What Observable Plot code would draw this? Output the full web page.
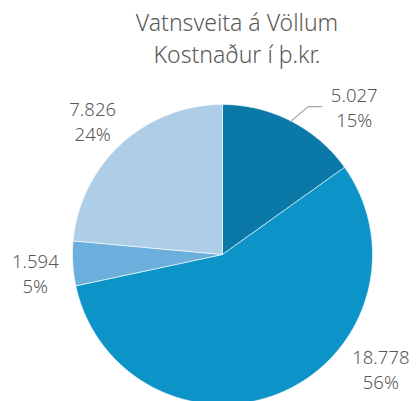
<!DOCTYPE html>
<html>
<head>
<meta charset="utf-8">
<script src="https://cdn.jsdelivr.net/npm/d3@7"></script>
<script src="https://cdn.jsdelivr.net/npm/@observablehq/plot@0.6"></script>
<style>
  html, body { margin: 0; padding: 0; background: #fff; overflow: hidden; }
  #wrap { position: relative; width: 417px; height: 401px; }
  .title { position: absolute; left: 237px; transform: translateX(-50%); white-space: nowrap;
           font-family: "Noto Sans", sans-serif; font-weight: 300; font-size: 23px; color: #595959; line-height: 32px; text-align: center; }
  #chart { position: absolute; left: 0; top: 80px; }
  #chart text { font-weight: 300; }
</style>
</head>
<body>
<div id="wrap">
  <div class="title" style="top:6px">Vatnsveita á Völlum<br>Kostnaður í þ.kr.</div>
  <div id="chart"></div>
</div>
<script>
// Data
const categories = ["A", "B", "C", "D"];
const values = [5027, 18778, 1594, 7826];
const percentLabels = ["15%", "56%", "5%", "24%"];

// Styles / layout (not data)
const colors = ["#0B79A8", "#0C93C7", "#6BAFDC", "#AECDE7"];
// label anchor positions in unit-radius coordinates (layout tweaks, Excel "best fit")
const labelLayout = [
  {r: 1.31, a: 42.1},
  {r: 1.31, a: 126.3},
  {r: 1.255, a: 263.9},
  {r: 1.235, a: 315.5}
];

const loc = d3.formatLocale({decimal: ",", thousands: ".", grouping: [3], currency: ["", ""]});
const fmt = loc.format(",d");

const pie = d3.pie().sort(null).value(d => d.value);
const rows = categories.map((c, i) => ({cat: c, value: values[i], pct: percentLabels[i], color: colors[i]}));
const arcs = pie(rows);

const toXY = (angle, r) => [r * Math.sin(angle), r * Math.cos(angle)];

// polygon points for each slice
const poly = [];
arcs.forEach((a, i) => {
  const n = Math.max(4, Math.ceil((a.endAngle - a.startAngle) / 0.01));
  poly.push({cat: rows[i].cat, color: rows[i].color, x: 0, y: 0});
  for (let k = 0; k <= n; k++) {
    const t = a.startAngle + (a.endAngle - a.startAngle) * k / n;
    const [x, y] = toXY(t, 1);
    poly.push({cat: rows[i].cat, color: rows[i].color, x, y});
  }
  poly.push({cat: rows[i].cat, color: rows[i].color, x: 0, y: 0});
});

const labels = arcs.map((a, i) => {
  const L = labelLayout[i];
  const [x, y] = toXY(L.a * Math.PI / 180, L.r);
  return {x, y, value: fmt(rows[i].value), pct: rows[i].pct};
});

// leader line for first slice
const a0 = arcs[0];
const mid0 = (a0.startAngle + a0.endAngle) / 2;
const p0 = toXY(mid0, 1.0);
const p1 = toXY(mid0 + 0.05, 1.14);
const leader = [
  {x: p0[0], y: p0[1]},
  {x: p1[0], y: p1[1]},
  {x: p1[0] + 0.09, y: p1[1]}
];

const textOpts = {x: "x", y: "y", fill: "#595959", fontSize: 18.5, fontFamily: "Noto Sans", textAnchor: "middle"};

const chart = Plot.plot({
  width: 417,
  height: 321,
  margin: 0,
  x: {domain: [-1, 1], range: [72, 372], axis: null},
  y: {domain: [-1, 1], range: [324, 24], axis: null},
  style: {background: "transparent", overflow: "visible"},
  marks: [
    Plot.line(poly, {x: "x", y: "y", z: "cat", fill: d => d.color, stroke: "white", strokeWidth: 0.6, curve: "linear"}),
    Plot.line(leader, {x: "x", y: "y", stroke: "#A6A6A6", strokeWidth: 1.2}),
    Plot.text(labels, {...textOpts, text: "value", dy: -12.5}),
    Plot.text(labels, {...textOpts, text: "pct", dy: 12.5})
  ]
});
document.getElementById("chart").appendChild(chart);
</script>
</body>
</html>
